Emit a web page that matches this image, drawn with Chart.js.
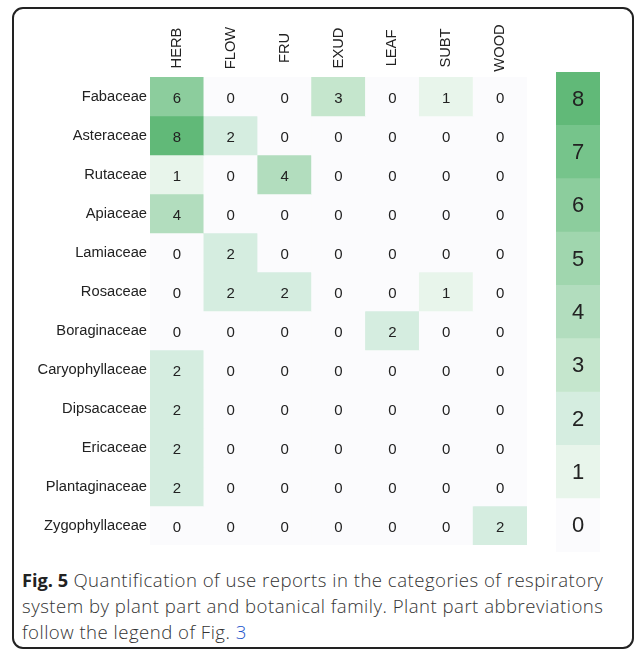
<!DOCTYPE html>
<html><head><meta charset="utf-8">
<script src="https://cdn.jsdelivr.net/npm/chart.js@4.4.1/dist/chart.umd.min.js"></script>
<style>
html,body{margin:0;padding:0;background:#fff;width:634px;height:653px;overflow:hidden;}
#frame{position:absolute;left:12px;top:7px;width:622px;height:642px;box-sizing:border-box;border:2px solid #222;border-radius:11px;}
#heat{position:absolute;left:0;top:0;}
#bar{position:absolute;left:540px;top:0;}
#cap{position:absolute;left:22px;top:567px;font-family:'Open Sans',sans-serif;font-weight:300;font-size:18.6px;letter-spacing:0.48px;line-height:26px;color:#333;white-space:nowrap;}
#cap b{font-weight:700;color:#222;letter-spacing:0;font-size:18.2px;}
#cap span{color:#2255cc;}
</style></head>
<body>
<div id="frame"></div>
<canvas id="heat" width="540" height="560"></canvas>
<canvas id="bar" width="80" height="560"></canvas>
<div id="cap"><b>Fig. 5</b> Quantification of use reports in the categories of respiratory<br>system by plant part and botanical family. Plant part abbreviations<br>follow the legend of Fig. <span>3</span></div>
<script>
const families = ['Fabaceae','Asteraceae','Rutaceae','Apiaceae','Lamiaceae','Rosaceae','Boraginaceae','Caryophyllaceae','Dipsacaceae','Ericaceae','Plantaginaceae','Zygophyllaceae'];
const parts = ['HERB','FLOW','FRU','EXUD','LEAF','SUBT','WOOD'];
const herb = [6,8,1,4,0,0,0,2,2,2,2,0];
const flow = [0,2,0,0,2,2,0,0,0,0,0,0];
const fru  = [0,0,4,0,0,2,0,0,0,0,0,0];
const exud = [3,0,0,0,0,0,0,0,0,0,0,0];
const leaf = [0,0,0,0,0,0,2,0,0,0,0,0];
const subt = [1,0,0,0,0,1,0,0,0,0,0,0];
const wood = [0,0,0,0,0,0,0,0,0,0,0,2];
const colorbarLevels = [0,1,2,3,4,5,6,7,8];
const palette = ['#fbfbfd','#e8f5eb','#d5ede0','#c5e6cd','#b2ddbe','#a0d6ae','#8ccd9d','#76c48b','#61b978'];

const columns = [herb, flow, fru, exud, leaf, subt, wood];
const FONT = "'Liberation Sans', Arial, sans-serif";

const cellText = {
  id: 'cellText',
  afterDatasetsDraw(chart) {
    const ctx = chart.ctx;
    ctx.save();
    ctx.font = '15px ' + FONT;
    ctx.fillStyle = '#222';
    ctx.textAlign = 'center';
    ctx.textBaseline = 'middle';
    chart.data.datasets.forEach((ds, di) => {
      chart.getDatasetMeta(di).data.forEach((el, j) => {
        const p = el.getProps(['x','y','base'], true);
        ctx.fillText(String(ds.values[j]), p.x, (p.y + p.base) / 2 + 2);
      });
    });
    ctx.restore();
  }
};

const colLabels = {
  id: 'colLabels',
  afterDraw(chart) {
    const ctx = chart.ctx, xs = chart.scales.x;
    ctx.save();
    ctx.font = '14.7px ' + FONT;
    ctx.fillStyle = '#222';
    ctx.textAlign = 'center';
    ctx.textBaseline = 'middle';
    xs.ticks.forEach((t, i) => {
      const x = xs.getPixelForTick(i);
      ctx.save();
      ctx.translate(x, 48);
      ctx.rotate(-Math.PI / 2);
      ctx.fillText(xs.getLabelForValue(t.value), 0, 0);
      ctx.restore();
    });
    ctx.restore();
  }
};

new Chart(document.getElementById('heat'), {
  type: 'bar',
  data: {
    labels: parts,
    datasets: families.map((f, i) => {
      const vals = columns.map(c => c[i]);
      return {
        label: f,
        values: vals,
        data: parts.map(() => [i - 0.5, i + 0.5]),
        backgroundColor: vals.map(v => palette[v]),
        borderWidth: 0,
        borderSkipped: false,
        grouped: false,
        barPercentage: 1,
        categoryPercentage: 1
      };
    })
  },
  options: {
    responsive: false,
    animation: false,
    devicePixelRatio: 1,
    layout: { padding: { left: 0, top: 77, right: 13, bottom: 15 } },
    plugins: { legend: { display: false }, tooltip: { enabled: false } },
    scales: {
      x: { type: 'category', display: false, offset: true },
      y: {
        type: 'linear', reverse: true, min: -0.5, max: 11.5,
        afterBuildTicks: s => { s.ticks = families.map((f, i) => ({ value: i })); },
        afterFit: s => { s.width = 150; },
        grid: { display: false, drawTicks: false }, border: { display: false },
        ticks: { callback: v => families[v], font: { family: FONT, size: 14.7 }, color: '#222', padding: 3, autoSkip: false }
      }
    }
  },
  plugins: [cellText, colLabels]
});

const barText = {
  id: 'barText',
  afterDatasetsDraw(chart) {
    const ctx = chart.ctx;
    ctx.save();
    ctx.font = '22px ' + FONT;
    ctx.fillStyle = '#222';
    ctx.textAlign = 'center';
    ctx.textBaseline = 'middle';
    chart.data.datasets.forEach((ds, di) => {
      chart.getDatasetMeta(di).data.forEach(el => {
        const p = el.getProps(['x','y','base'], true);
        ctx.fillText(ds.label, p.x, (p.y + p.base) / 2 + 1);
      });
    });
    ctx.restore();
  }
};

new Chart(document.getElementById('bar'), {
  type: 'bar',
  data: {
    labels: [''],
    datasets: colorbarLevels.map(k => ({
      label: String(k),
      data: [[k, k + 1]],
      backgroundColor: palette[k],
      borderWidth: 0,
      borderSkipped: false,
      grouped: false,
      barPercentage: 1,
      categoryPercentage: 1
    }))
  },
  options: {
    responsive: false,
    animation: false,
    devicePixelRatio: 1,
    layout: { padding: { left: 16, right: 20, top: 72, bottom: 8 } },
    plugins: { legend: { display: false }, tooltip: { enabled: false } },
    scales: {
      x: { display: false, offset: true },
      y: { type: 'linear', min: 0, max: 9, display: false }
    }
  },
  plugins: [barText]
});
</script>
</body></html>
